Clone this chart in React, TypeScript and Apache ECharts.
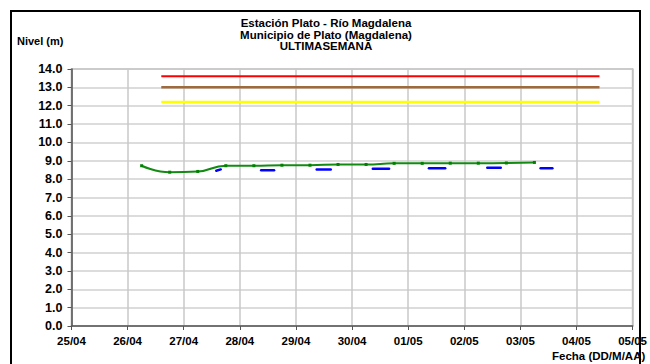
import React, { useEffect, useRef } from "react";
import * as echarts from "echarts";

// X axis: days from 25/04 (0) to 05/05 (10)
const xTickLabels = ["25/04", "26/04", "27/04", "28/04", "29/04", "30/04", "01/05", "02/05", "03/05", "04/05", "05/05"];

// Observed level (green), day offsets and values (m)
const greenDays = [1.25, 1.75, 2.25, 2.75, 3.25, 3.75, 4.25, 4.75, 5.25, 5.75, 6.25, 6.75, 7.25, 7.75, 8.25];
const greenValues = [8.73, 8.38, 8.42, 8.73, 8.73, 8.76, 8.76, 8.8, 8.8, 8.86, 8.86, 8.87, 8.87, 8.88, 8.91];

// Blue short segments
const blueSegStart = [2.58, 3.38, 4.37, 5.37, 6.37, 7.41, 8.36];
const blueSegEnd = [2.66, 3.61, 4.62, 5.66, 6.66, 7.65, 8.57];
const blueSegStartVal = [8.46, 8.48, 8.53, 8.57, 8.6, 8.62, 8.6];
const blueSegEndVal = [8.53, 8.48, 8.53, 8.57, 8.6, 8.62, 8.6];

// Threshold levels
const thresholdStart = 1.6;
const thresholdEnd = 9.41;
const thresholdNames = ["Roja", "Naranja", "Amarilla"];
const thresholdValues = [13.6, 13.0, 12.2];
const thresholdColors = ["#FF0000", "#9E6B3E", "#FFFF00"];

const titleLines = ["Estación Plato - Río Magdalena", "Municipio de Plato (Magdalena)", "ULTIMASEMANA"];

const FONT = "Liberation Sans, Arial, sans-serif";

export default function App() {
  const ref = useRef<HTMLDivElement>(null);

  useEffect(() => {
    if (!ref.current) return;
    const chart = echarts.init(ref.current, undefined, { renderer: "svg" });

    const thresholdSeries = thresholdValues.map((v, i) => ({
      name: thresholdNames[i],
      type: "line",
      data: [
        [thresholdStart, v],
        [thresholdEnd, v],
      ],
      symbol: "none",
      lineStyle: { color: thresholdColors[i], width: i === 0 ? 2 : 2.5 },
      z: 3,
    }));

    const blueSeries = blueSegStart.map((s, i) => ({
      name: "Sensor" + i,
      type: "line",
      data: [
        [s, blueSegStartVal[i]],
        [blueSegEnd[i], blueSegEndVal[i]],
      ],
      symbol: "none",
      lineStyle: { color: "#0000FF", width: 2.5, cap: "round" },
      z: 4,
    }));

    const titleTexts = titleLines.map((t, i) => ({
      type: "text",
      x: 326,
      y: 23 + i * 11.5,
      style: {
        text: t,
        font: "bold 11.5px " + FONT,
        fill: "#000",
        align: "center",
        verticalAlign: "middle",
      },
    }));

    const option = {
      animation: false,
      backgroundColor: "#ffffff",
      graphic: [
        {
          type: "rect",
          shape: { x: 11, y: 11, width: 629, height: 400 },
          style: { fill: "none", stroke: "#000", lineWidth: 2 },
          silent: true,
        },
        ...titleTexts,
        {
          type: "text",
          x: 17,
          y: 41,
          style: {
            text: "Nivel (m)",
            font: "bold 11px " + FONT,
            fill: "#000",
            verticalAlign: "middle",
          },
        },
        {
          type: "text",
          x: 552,
          y: 356,
          style: {
            text: "Fecha (DD/M/AA)",
            font: "bold 11.5px " + FONT,
            fill: "#000",
            verticalAlign: "middle",
          },
        },
      ],
      grid: {
        left: 71.5,
        right: 650 - 636.5,
        top: 69,
        bottom: 364 - 326,
        show: true,
        borderColor: "#a6a6a6",
        borderWidth: 1.5,
        containLabel: false,
      },
      xAxis: {
        type: "value",
        min: 0,
        max: 10,
        interval: 1,
        axisLine: { show: true, lineStyle: { color: "#555", width: 1.5 } },
        axisTick: { show: true, length: 4, lineStyle: { color: "#555" } },
        axisLabel: {
          formatter: (v: number) => xTickLabels[Math.round(v)] ?? "",
          fontFamily: FONT,
          fontSize: 11.5,
          fontWeight: "bold",
          color: "#000",
          margin: 9,
          showMaxLabel: true,
          showMinLabel: true,
        },
        splitLine: { show: true, lineStyle: { color: "#c8c8c8", width: 1.5 } },
      },
      yAxis: {
        type: "value",
        min: 0,
        max: 14,
        interval: 1,
        axisLine: { show: true, lineStyle: { color: "#555", width: 1.5 } },
        axisTick: { show: true, length: 4, lineStyle: { color: "#555" } },
        axisLabel: {
          formatter: (v: number) => v.toFixed(1),
          fontFamily: FONT,
          fontSize: 12.5,
          fontWeight: "bold",
          color: "#000",
          margin: 9,
        },
        splitLine: { show: true, lineStyle: { color: "#d0d0d0", width: 1.5 } },
      },
      series: [
        ...thresholdSeries,
        ...blueSeries,
        {
          name: "Nivel",
          type: "line",
          data: greenDays.map((d, i) => [d, greenValues[i]]),
          smooth: 0.5,
          symbol: "rect",
          symbolSize: 3,
          itemStyle: { color: "#008000" },
          lineStyle: { color: "#138a13", width: 2 },
          z: 5,
        },
      ],
    };

    chart.setOption(option as any);
    return () => chart.dispose();
  }, []);

  return (
    <div
      ref={ref}
      style={{ position: "absolute", left: 0, top: 0, width: 650, height: 364 }}
    />
  );
}
